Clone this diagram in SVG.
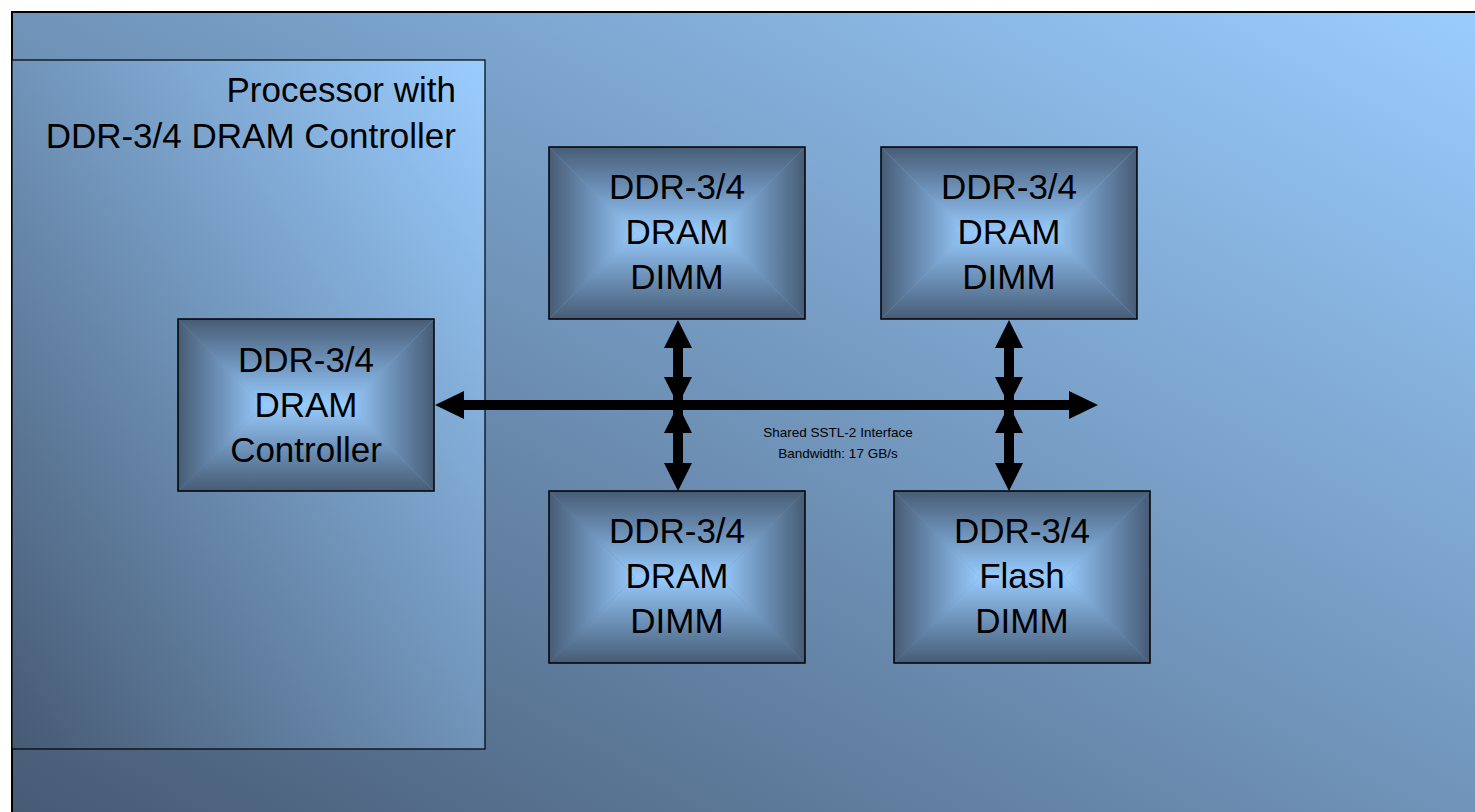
<svg xmlns="http://www.w3.org/2000/svg" width="1475" height="812" viewBox="0 0 1475 812">
  <defs>
    <linearGradient id="bgGrad" x1="0" y1="1" x2="1" y2="0">
      <stop offset="0" stop-color="#465a73"/>
      <stop offset="1" stop-color="#9acdff"/>
    </linearGradient>
    <linearGradient id="procGrad" x1="0" y1="1" x2="1" y2="0">
      <stop offset="0" stop-color="#465a73"/>
      <stop offset="1" stop-color="#9acdff"/>
    </linearGradient>
    <!-- box shading: dark at the edge, light towards the centre -->
    <linearGradient id="gTop" x1="0" y1="0" x2="0" y2="1">
      <stop offset="0" stop-color="#475c75"/>
      <stop offset="0.45" stop-color="#6a8db3"/>
      <stop offset="1" stop-color="#98cbfd"/>
    </linearGradient>
    <linearGradient id="gBottom" x1="0" y1="1" x2="0" y2="0">
      <stop offset="0" stop-color="#475c75"/>
      <stop offset="0.45" stop-color="#6a8db3"/>
      <stop offset="1" stop-color="#98cbfd"/>
    </linearGradient>
    <linearGradient id="gLeft" x1="0" y1="0" x2="1" y2="0">
      <stop offset="0" stop-color="#475c75"/>
      <stop offset="0.45" stop-color="#6a8db3"/>
      <stop offset="1" stop-color="#98cbfd"/>
    </linearGradient>
    <linearGradient id="gRight" x1="1" y1="0" x2="0" y2="0">
      <stop offset="0" stop-color="#475c75"/>
      <stop offset="0.45" stop-color="#6a8db3"/>
      <stop offset="1" stop-color="#98cbfd"/>
    </linearGradient>
    <!-- block: 256 x 172, faces meet on a horizontal seam -->
    <g id="block">
      <path d="M0,0 H256 L170,86 H86 Z" fill="url(#gTop)"/>
      <path d="M0,172 H256 L170,86 H86 Z" fill="url(#gBottom)"/>
      <path d="M0,0 L86,86 L0,172 Z" fill="url(#gLeft)"/>
      <path d="M256,0 L170,86 L256,172 Z" fill="url(#gRight)"/>
      <rect x="0" y="0" width="256" height="172" fill="none" stroke="#000" stroke-width="1.5"/>
    </g>
  </defs>
  <style>
    text { font-family: "Liberation Sans", Arial, sans-serif; fill: #000; }
    .big { font-size: 35px; text-anchor: middle; }
    .title { font-size: 35px; text-anchor: end; }
    .small { font-size: 13.5px; text-anchor: middle; }
    .shaft { stroke: #000; stroke-width: 10; fill: none; }
    .head { fill: #000; }
  </style>

  <rect width="1475" height="812" fill="#ffffff"/>
  <rect id="background" x="12" y="12" width="1475" height="812" fill="url(#bgGrad)" stroke="#000" stroke-width="2"/>

  <g id="processor">
    <rect x="12" y="60" width="473" height="689" fill="url(#procGrad)" stroke="#000" stroke-width="1.2"/>
    <text class="title" x="456" y="102">Processor with</text>
    <text class="title" x="456" y="148">DDR-3/4 DRAM Controller</text>
  </g>

  <g id="connectors">
    <!-- shared bus -->
    <line class="shaft" x1="460" y1="405" x2="1072" y2="405"/>
    <polygon class="head" points="435,405 464,391 464,419"/>
    <polygon class="head" points="1098,405 1069,391 1069,419"/>
    <!-- DIMM taps -->
    <line class="shaft" x1="678" y1="345" x2="678" y2="465"/>
    <polygon class="head" points="678,320 664,348 692,348"/>
    <polygon class="head" points="678,405 664,377 692,377"/>
    <polygon class="head" points="678,405 664,433 692,433"/>
    <polygon class="head" points="678,491 664,463 692,463"/>
    <line class="shaft" x1="1009" y1="345" x2="1009" y2="465"/>
    <polygon class="head" points="1009,320 995,348 1023,348"/>
    <polygon class="head" points="1009,405 995,377 1023,377"/>
    <polygon class="head" points="1009,405 995,433 1023,433"/>
    <polygon class="head" points="1009,491 995,463 1023,463"/>
    <text class="small" x="838" y="437">Shared SSTL-2 Interface</text>
    <text class="small" x="838" y="458">Bandwidth: 17 GB/s</text>
  </g>

  <g id="controller">
    <use href="#block" x="178" y="319"/>
    <text class="big" x="306" y="372">DDR-3/4</text>
    <text class="big" x="306" y="417">DRAM</text>
    <text class="big" x="306" y="462">Controller</text>
  </g>

  <g id="dimm-top-left">
    <use href="#block" x="549" y="147"/>
    <text class="big" x="677" y="199">DDR-3/4</text>
    <text class="big" x="677" y="244">DRAM</text>
    <text class="big" x="677" y="289">DIMM</text>
  </g>

  <g id="dimm-top-right">
    <use href="#block" x="881" y="147"/>
    <text class="big" x="1009" y="199">DDR-3/4</text>
    <text class="big" x="1009" y="244">DRAM</text>
    <text class="big" x="1009" y="289">DIMM</text>
  </g>

  <g id="dimm-bottom-left">
    <use href="#block" x="549" y="491"/>
    <text class="big" x="677" y="543">DDR-3/4</text>
    <text class="big" x="677" y="588">DRAM</text>
    <text class="big" x="677" y="633">DIMM</text>
  </g>

  <g id="flash-dimm">
    <use href="#block" x="894" y="491"/>
    <text class="big" x="1022" y="543">DDR-3/4</text>
    <text class="big" x="1022" y="588">Flash</text>
    <text class="big" x="1022" y="633">DIMM</text>
  </g>
</svg>
